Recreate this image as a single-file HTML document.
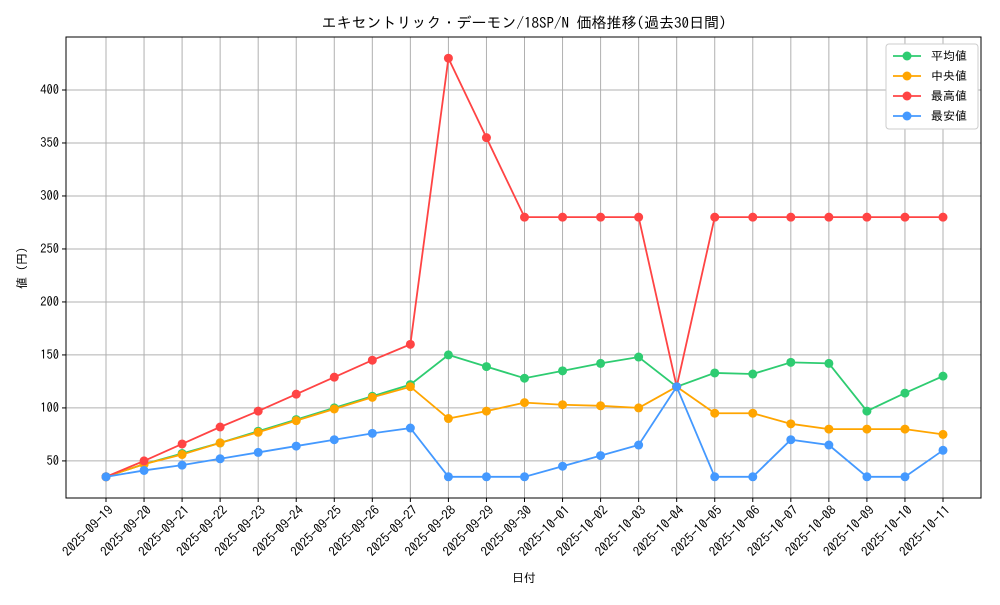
<!DOCTYPE html>
<html><head><meta charset="utf-8"><style>
body{margin:0;background:#fff;}
svg text{font-family:"IPAGothic","Noto Sans CJK JP",monospace;fill:#000;}
</style></head><body>
<svg id="chart" width="1000" height="600" xmlns="http://www.w3.org/2000/svg"></svg>
<script>
const dates=["2025-09-19","2025-09-20","2025-09-21","2025-09-22","2025-09-23","2025-09-24","2025-09-25","2025-09-26","2025-09-27","2025-09-28","2025-09-29","2025-09-30","2025-10-01","2025-10-02","2025-10-03","2025-10-04","2025-10-05","2025-10-06","2025-10-07","2025-10-08","2025-10-09","2025-10-10","2025-10-11"];
const avgVals=[35,47,57,67,78,89,100,111,122,150,139,128,135,142,148,120,133,132,143,142,97,114,130];
const medianVals=[35,47,56,67,77,88,99,110,120,90,97,105,103,102,100,120,95,95,85,80,80,80,75];
const maxVals=[35,50,66,82,97,113,129,145,160,430,355,280,280,280,280,120,280,280,280,280,280,280,280];
const minVals=[35,41,46,52,58,64,70,76,81,35,35,35,45,55,65,120,35,35,70,65,35,35,60];
const yTicks=[50,100,150,200,250,300,350,400];
const seriesNames=["平均値","中央値","最高値","最安値"];
const seriesColors=["#2ecc71","#ffa500","#ff4444","#4499ff"];
const seriesData=[avgVals,medianVals,maxVals,minVals];

const svg=document.getElementById('chart');
const NS="http://www.w3.org/2000/svg";
const L=66,R=981,T=37,B=498,yMin=15,yMax=450;
const xS=i=>106+i*(943-106)/(dates.length-1);
const yS=v=>B-(v-yMin)*(B-T)/(yMax-yMin);
function mk(tag,attrs,parent){const e=document.createElementNS(NS,tag);for(const k in attrs)e.setAttribute(k,attrs[k]);(parent||svg).appendChild(e);return e;}

const grid=mk('g',{});


dates.forEach((d,i)=>{const x=xS(i);
 mk('line',{x1:x,x2:x,y1:T,y2:B,stroke:'#b0b0b0','stroke-width':1},grid);
 mk('line',{x1:x,x2:x,y1:B,y2:B+4,stroke:'#000'});
 const t=mk('text',{x:0,y:0,'font-size':13,'text-anchor':'end',transform:`translate(${x+8},${B+13}) rotate(-45)`});
 t.textContent=d;
 
 
});
yTicks.forEach(v=>{const y=yS(v);
 mk('line',{x1:L,x2:R,y1:y,y2:y,stroke:'#b0b0b0','stroke-width':1},grid);
 mk('line',{x1:L-4,x2:L,y1:y,y2:y,stroke:'#000'});
 const t=mk('text',{x:L-7,y:y+4,'font-size':12.5,'text-anchor':'end'});
 t.textContent=v;
 
 
});
const frame=mk('rect',{x:L,y:T,width:R-L,height:B-T,fill:'none',stroke:'#000','stroke-width':1});



seriesData.forEach((vals,s)=>{
 const g=mk('g',{});
 
 
 mk('polyline',{points:vals.map((v,i)=>xS(i)+','+yS(v)).join(' '),fill:'none',stroke:seriesColors[s],'stroke-width':1.8},g);
 vals.forEach((v,i)=>{const c=mk('circle',{cx:xS(i),cy:yS(v),r:4.5,fill:seriesColors[s]},g);
  
  });
});

const title=mk('text',{x:524,y:28,'font-size':15,'text-anchor':'middle'});
title.textContent='エキセントリック・デーモン/18SP/N 価格推移(過去30日間)';


const xt=mk('text',{x:524,y:582,'font-size':12,'text-anchor':'middle'});
xt.textContent='日付';


const yt=mk('text',{x:0,y:0,'font-size':12,'text-anchor':'middle',transform:'translate(26,268) rotate(-90)'});
yt.textContent='値 (円)';



const lg=mk('g',{});


mk('rect',{x:886,y:44,width:92,height:85,rx:3,fill:'#fff',stroke:'#ccc'},lg);
seriesNames.forEach((n,s)=>{const y=56+s*20;
 mk('line',{x1:893,x2:921,y1:y,y2:y,stroke:seriesColors[s],'stroke-width':1.8},lg);
 mk('circle',{cx:907,cy:y,r:4.5,fill:seriesColors[s]},lg);
 const t=mk('text',{x:931,y:y+4,'font-size':12},lg);
 t.textContent=n;
 
 
});
</script>
</body></html>
